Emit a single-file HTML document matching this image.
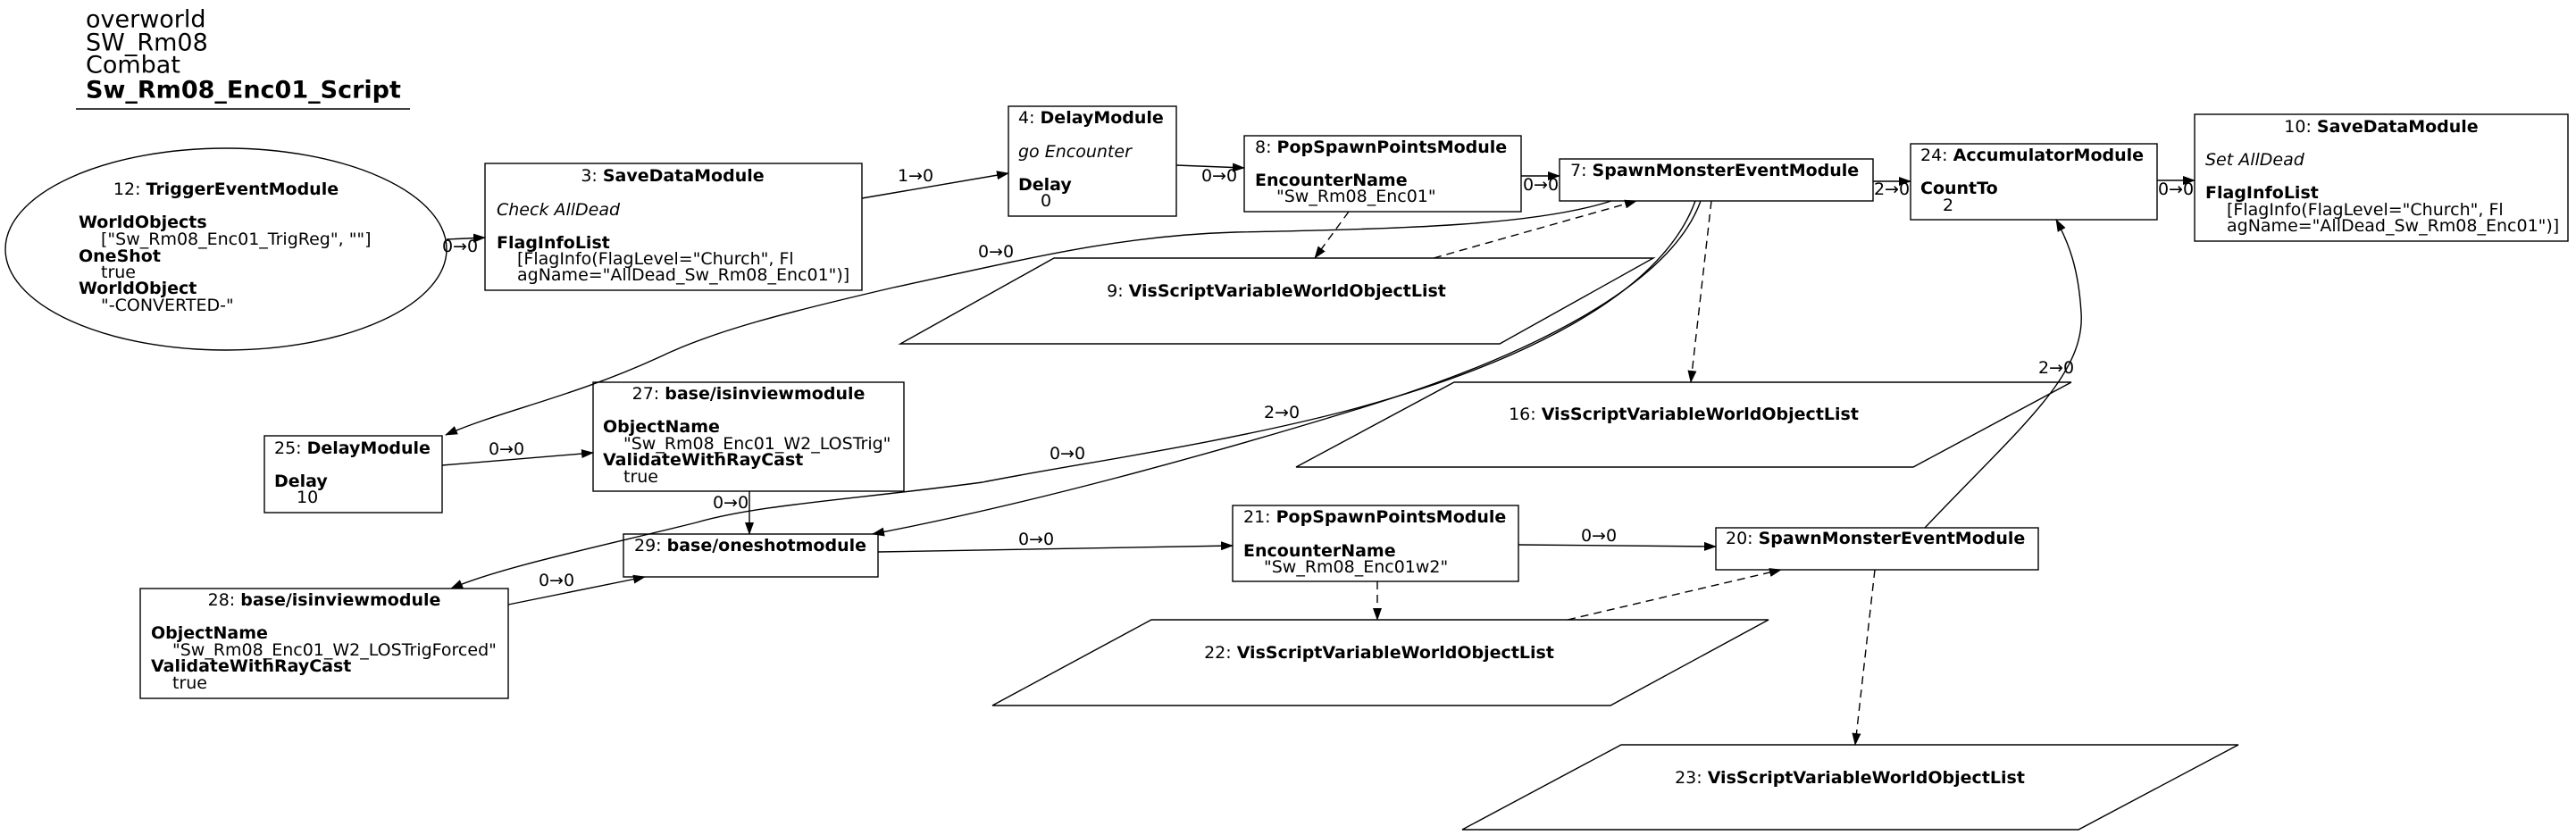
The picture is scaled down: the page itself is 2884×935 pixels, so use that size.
<!DOCTYPE html>
<html><head><meta charset="utf-8"><style>
html,body{margin:0;padding:0;background:#fff;}
svg{display:block;}
text{font-family:"DejaVu Sans","Liberation Sans",sans-serif;font-size:19px;fill:#000;dominant-baseline:central;}
.b{font-weight:bold;}
.i{font-style:italic;}
.t{font-family:"DejaVu Sans","Liberation Sans",sans-serif;font-size:27px;}
.n{fill:none;stroke:#000;stroke-width:1.4;}
.e{fill:none;stroke:#000;stroke-width:1.4;marker-end:url(#a);}
.d{fill:none;stroke:#000;stroke-width:1.4;stroke-dasharray:9,6;marker-end:url(#a);}
</style></head><body>
<svg width="2884" height="935" viewBox="0 0 2884 935" xmlns="http://www.w3.org/2000/svg">
<defs><marker id="a" markerUnits="userSpaceOnUse" markerWidth="14" markerHeight="10" refX="13" refY="5" orient="auto"><path d="M0,0 L14,5 L0,10 z" fill="#000"/></marker></defs>

<text class="t" x="96" y="22">overworld</text>
<text class="t" x="96" y="48">SW_Rm08</text>
<text class="t" x="96" y="73">Combat</text>
<text class="t b" x="96" y="101">Sw_Rm08_Enc01_Script</text>
<line x1="85" y1="122" x2="459" y2="122" stroke="#000" stroke-width="1.5"/>

<ellipse class="n" cx="253" cy="279" rx="247" ry="113"/>
<text x="253" y="212" text-anchor="middle">12: <tspan class="b">TriggerEventModule</tspan></text>
<text class="b" x="88" y="249">WorldObjects</text>
<text x="113" y="268">["Sw_Rm08_Enc01_TrigReg", ""]</text>
<text class="b" x="88" y="287">OneShot</text>
<text x="113" y="305">true</text>
<text class="b" x="88" y="323">WorldObject</text>
<text x="113" y="342">"-CONVERTED-"</text>

<rect class="n" x="543" y="183" width="422" height="142"/>
<text x="753" y="197" text-anchor="middle">3: <tspan class="b">SaveDataModule</tspan></text>
<text class="i" x="556" y="235">Check AllDead</text>
<text class="b" x="556" y="272">FlagInfoList</text>
<text x="579" y="290">[FlagInfo(FlagLevel="Church", Fl</text>
<text x="579" y="308">agName="AllDead_Sw_Rm08_Enc01")]</text>

<rect class="n" x="1129" y="119" width="188" height="123"/>
<text x="1140" y="132">4: <tspan class="b">DelayModule</tspan></text>
<text class="i" x="1140" y="170">go Encounter</text>
<text class="b" x="1140" y="207">Delay</text>
<text x="1165" y="225">0</text>

<rect class="n" x="1393" y="152" width="310" height="85"/>
<text x="1405" y="165">8: <tspan class="b">PopSpawnPointsModule</tspan></text>
<text class="b" x="1405" y="202">EncounterName</text>
<text x="1429" y="220">"Sw_Rm08_Enc01"</text>

<rect class="n" x="1746" y="178" width="351" height="47"/>
<text x="1758" y="191">7: <tspan class="b">SpawnMonsterEventModule</tspan></text>

<rect class="n" x="2139" y="161" width="276" height="85"/>
<text x="2150" y="174">24: <tspan class="b">AccumulatorModule</tspan></text>
<text class="b" x="2150" y="211">CountTo</text>
<text x="2175" y="230">2</text>

<rect class="n" x="2457" y="128" width="418" height="142"/>
<text x="2666" y="142" text-anchor="middle">10: <tspan class="b">SaveDataModule</tspan></text>
<text class="i" x="2469" y="179">Set AllDead</text>
<text class="b" x="2469" y="216">FlagInfoList</text>
<text x="2493" y="235">[FlagInfo(FlagLevel="Church", Fl</text>
<text x="2493" y="253">agName="AllDead_Sw_Rm08_Enc01")]</text>

<polygon class="n" points="1180,289 1851,289 1679,385 1008,385"/>
<text x="1429" y="326" text-anchor="middle">9: <tspan class="b">VisScriptVariableWorldObjectList</tspan></text>
<polygon class="n" points="1628,428 2319,428 2142,523 1451,523"/>
<text x="1885" y="464" text-anchor="middle">16: <tspan class="b">VisScriptVariableWorldObjectList</tspan></text>

<rect class="n" x="296" y="488" width="199" height="86"/>
<text x="307" y="502">25: <tspan class="b">DelayModule</tspan></text>
<text class="b" x="307" y="539">Delay</text>
<text x="332" y="557">10</text>

<rect class="n" x="664" y="428" width="348" height="122"/>
<text x="838" y="441" text-anchor="middle">27: <tspan class="b">base/isinviewmodule</tspan></text>
<text class="b" x="675" y="478">ObjectName</text>
<text x="698" y="497">"Sw_Rm08_Enc01_W2_LOSTrig"</text>
<text class="b" x="675" y="515">ValidateWithRayCast</text>
<text x="698" y="534">true</text>

<rect class="n" x="698" y="598" width="285" height="48"/>
<text x="710" y="611">29: <tspan class="b">base/oneshotmodule</tspan></text>

<rect class="n" x="157" y="659" width="412" height="123"/>
<text x="363" y="672" text-anchor="middle">28: <tspan class="b">base/isinviewmodule</tspan></text>
<text class="b" x="169" y="709">ObjectName</text>
<text x="193" y="728">"Sw_Rm08_Enc01_W2_LOSTrigForced"</text>
<text class="b" x="169" y="746">ValidateWithRayCast</text>
<text x="193" y="765">true</text>

<rect class="n" x="1380" y="566" width="320" height="85"/>
<text x="1392" y="579">21: <tspan class="b">PopSpawnPointsModule</tspan></text>
<text class="b" x="1392" y="617">EncounterName</text>
<text x="1415" y="635">"Sw_Rm08_Enc01w2"</text>

<rect class="n" x="1921" y="591" width="361" height="47"/>
<text x="1932" y="603">20: <tspan class="b">SpawnMonsterEventModule</tspan></text>

<polygon class="n" points="1289,694 1980,694 1803,790 1111,790"/>
<text x="1544" y="731" text-anchor="middle">22: <tspan class="b">VisScriptVariableWorldObjectList</tspan></text>
<polygon class="n" points="1815,834 2506,834 2327,929 1637,929"/>
<text x="2071" y="871" text-anchor="middle">23: <tspan class="b">VisScriptVariableWorldObjectList</tspan></text>

<path class="e" d="M500,268 L543,266"/><text x="515" y="276" text-anchor="middle">0→0</text>
<path class="e" d="M965,222 L1129,194"/><text x="1025" y="197" text-anchor="middle">1→0</text>
<path class="e" d="M1317,185 L1393,188"/><text x="1365" y="197" text-anchor="middle">0→0</text>
<path class="e" d="M1703,197 L1746,197"/><text x="1725" y="207" text-anchor="middle">0→0</text>
<path class="e" d="M2097,203 L2139,203"/><text x="2118" y="212" text-anchor="middle">2→0</text>
<path class="e" d="M2415,202 L2457,202"/><text x="2436" y="212" text-anchor="middle">0→0</text>
<path class="e" d="M495,521 L664,507"/><text x="567" y="503" text-anchor="middle">0→0</text>
<path class="e" d="M839,550 L839,598"/><text x="818" y="563" text-anchor="middle">0→0</text>
<path class="e" d="M569,677 L722,646"/><text x="623" y="650" text-anchor="middle">0→0</text>
<path class="e" d="M983,618 L1380,611"/><text x="1160" y="604" text-anchor="middle">0→0</text>
<path class="e" d="M1700,610 L1921,612"/><text x="1790" y="600" text-anchor="middle">0→0</text>

<path class="d" d="M1510,237 L1472,289"/>
<path class="d" d="M1605,289 L1832,225"/>
<path class="d" d="M1916,225 L1893,428"/>
<path class="d" d="M1542,651 L1542,694"/>
<path class="d" d="M1755,694 L1994,638"/>
<path class="d" d="M2099,638 L2077,834"/>

<path class="e" d="M1804,225 C1720,252 1580,256 1383,260 C1250,264 1150,290 1000,322 C880,350 800,370 738,400 C640,445 560,460 499,487"/>
<text x="1115" y="282" text-anchor="middle">0→0</text>
<path class="e" d="M1904,225 C1870,320 1710,400 1520,458 C1350,510 1150,565 977,598"/>
<text x="1435" y="462" text-anchor="middle">2→0</text>
<path class="e" d="M1898,225 C1860,330 1700,410 1500,462 C1350,500 1200,520 1100,540 C950,560 850,565 780,585 C680,610 560,635 505,659"/>
<text x="1195" y="508" text-anchor="middle">0→0</text>
<path class="e" d="M2155,591 C2260,480 2335,420 2330,350 C2327,300 2316,272 2302,246"/>
<text x="2302" y="412" text-anchor="middle">2→0</text>
</svg>
</body></html>
